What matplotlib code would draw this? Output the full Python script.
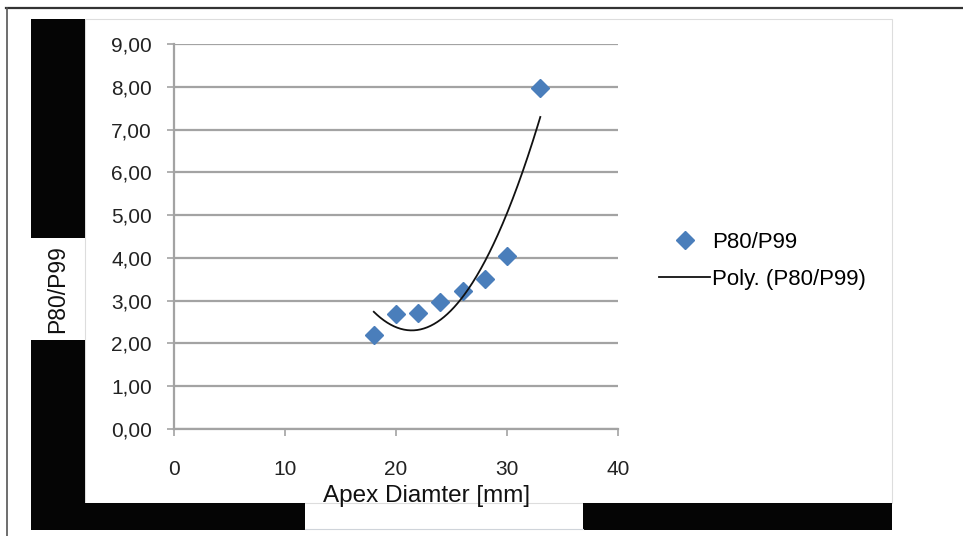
import numpy as np
import matplotlib
matplotlib.use("Agg")
import matplotlib.pyplot as plt
from matplotlib.patches import Rectangle
from matplotlib.lines import Line2D
from matplotlib.ticker import FuncFormatter

# ---- data ----
apex_diameter = [18, 20, 22, 24, 26, 28, 30, 33]
p80_p99 = [2.20, 2.68, 2.72, 2.98, 3.22, 3.51, 4.05, 7.97]
x_ticks = [0, 10, 20, 30, 40]
y_ticks = [0, 1, 2, 3, 4, 5, 6, 7, 8, 9]
series_label = "P80/P99"
trend_label = "Poly. (P80/P99)"
x_label = "Apex Diamter [mm]"
y_label = "P80/P99"

W, H = 963, 536
plt.rcParams['font.family'] = ['Liberation Sans', 'DejaVu Sans']
fig = plt.figure(figsize=(W / 100, H / 100), dpi=100)
fig.patch.set_facecolor('white')


def px_rect(x0, y0, x1, y1, **kw):
    r = Rectangle((x0 / W, 1 - y1 / H), (x1 - x0) / W, (y1 - y0) / H,
                  transform=fig.transFigure, **kw)
    fig.add_artist(r)


def px_line(xs, ys, **kw):
    fig.add_artist(Line2D([x / W for x in xs], [1 - y / H for y in ys],
                          transform=fig.transFigure, **kw))


# scanned-page decorations
px_rect(85, 19, 892, 503, facecolor='white', edgecolor='#dddddd', linewidth=0.8, zorder=0)
px_rect(31, 19, 85, 238, facecolor='#050505', edgecolor='none', zorder=1)
px_rect(31, 340, 85, 530, facecolor='#050505', edgecolor='none', zorder=1)
px_rect(31, 503, 305, 530, facecolor='#050505', edgecolor='none', zorder=1)
px_rect(583, 503, 892, 530, facecolor='#050505', edgecolor='none', zorder=1)
px_line([305, 583], [529, 529], color='#cfd4da', linewidth=0.8)
px_line([6, 963], [8, 8], color='#333333', linewidth=1.6)
px_line([7, 7], [8, 536], color='#555555', linewidth=1.2)

# axes
ax_l, ax_r, ax_t, ax_b = 174, 618, 44, 429
ax = fig.add_axes([ax_l / W, 1 - ax_b / H, (ax_r - ax_l) / W, (ax_b - ax_t) / H])
ax.set_facecolor('none')
ax.set_xlim(0, 40)
ax.set_ylim(0, 9)
ax.set_xticks(x_ticks)
ax.set_yticks(y_ticks)
ax.yaxis.set_major_formatter(FuncFormatter(lambda v, p: f"{v:.2f}".replace('.', ',')))
ax.grid(axis='y', color='#a3a3a3', linewidth=1.6, zorder=1)
ax.set_axisbelow(True)
for s in ['top', 'right']:
    ax.spines[s].set_visible(False)
for s in ['left', 'bottom']:
    ax.spines[s].set_color('#a3a3a3')
    ax.spines[s].set_linewidth(1.6)
ax.tick_params(axis='x', direction='out', length=5, width=1.2, color='#a3a3a3',
               labelsize=15, pad=17, labelcolor='#222222')
ax.tick_params(axis='y', direction='out', length=5, width=1.2, color='#a3a3a3',
               labelsize=15, pad=11, labelcolor='#222222')

# data points
ax.plot(apex_diameter, p80_p99, linestyle='none', marker='D', markersize=9,
        color='#4a7ebb', label=series_label, zorder=3, clip_on=False)

# polynomial (order 2) trendline, as in the spreadsheet chart
coef = np.polyfit(apex_diameter, p80_p99, 2)
xs = np.linspace(min(apex_diameter), max(apex_diameter), 200)
ax.plot(xs, np.polyval(coef, xs), color='#111111', linewidth=1.3,
        label=trend_label, zorder=4)

ax.set_xlabel(x_label, fontsize=17.5, color='#111111')
ax.xaxis.set_label_coords((427 - ax_l) / (ax_r - ax_l), (ax_b - 496) / (ax_b - ax_t))
ax.xaxis.label.set_verticalalignment('center')
ax.set_ylabel(y_label, fontsize=16.5, color='#111111')
ax.yaxis.set_label_coords((58 - ax_l) / (ax_r - ax_l), (ax_b - 289) / (ax_b - ax_t))
ax.yaxis.label.set_verticalalignment('center')

leg = ax.legend(loc='center left', bbox_to_anchor=(659 / W, 1 - 261 / H),
                bbox_transform=fig.transFigure, frameon=False, fontsize=16,
                handlelength=2.3, handletextpad=0.1, labelspacing=0.7,
                borderpad=0, borderaxespad=0)

fig.savefig("out.png", dpi=100, facecolor='white')
